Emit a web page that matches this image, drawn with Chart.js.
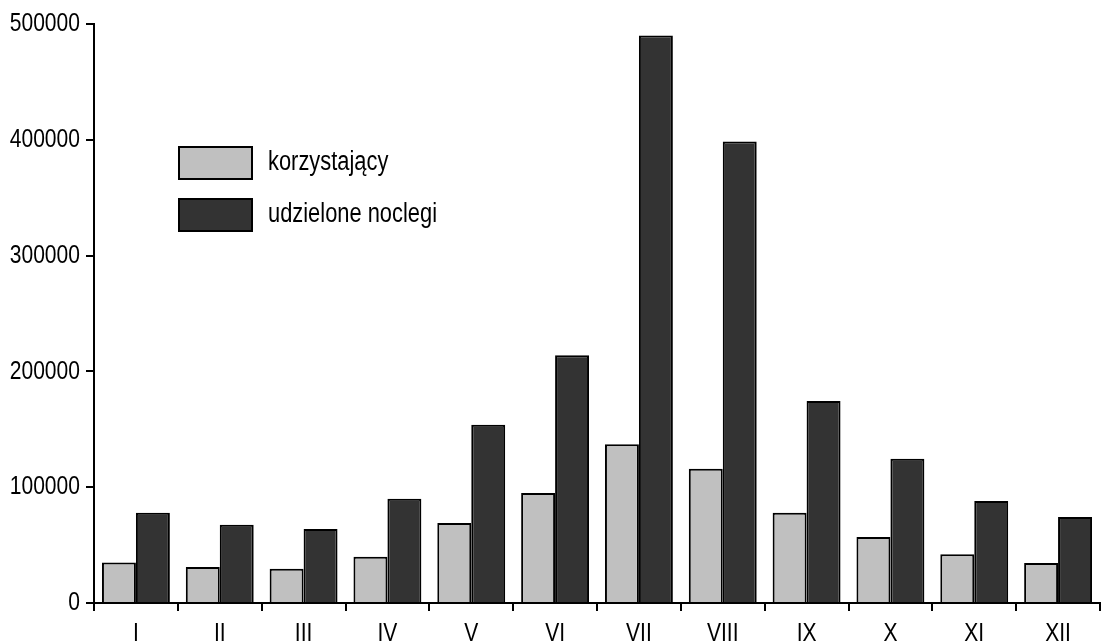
<!DOCTYPE html>
<html>
<head>
<meta charset="utf-8">
<script src="https://cdn.jsdelivr.net/npm/chart.js@4/dist/chart.umd.min.js"></script>
<style>
  html, body { margin: 0; padding: 0; background: #fff; }
  #wrap { width: 1101px; height: 643px; position: relative; }
</style>
</head>
<body>
<div id="wrap"><canvas id="chart"></canvas></div>
<script>
"use strict";

const months = ["I", "II", "III", "IV", "V", "VI", "VII", "VIII", "IX", "X", "XI", "XII"];
const korzystajacy = [35000, 31000, 29500, 40000, 69000, 95000, 137000, 116000, 78000, 57000, 42000, 34500];
const noclegi = [78000, 67500, 64000, 90000, 154000, 214000, 490000, 398500, 174500, 124500, 88000, 74300];
const yTicks = [0, 100000, 200000, 300000, 400000, 500000];

const FONT = "'Liberation Sans', Arial, sans-serif";
// no narrow font installed, so text gets squeezed with fillText's maxWidth
const NARROW = 0.81;

function narrowText(ctx, txt, x, y, size) {
  ctx.font = size + "px " + FONT;
  const w = ctx.measureText(txt).width * NARROW;
  ctx.fillText(txt, x, y, w);
}

const narrowLabels = {
  id: "narrowLabels",
  afterDraw(chart) {
    const ctx = chart.ctx;
    ctx.save();
    ctx.fillStyle = "#000";

    const ys = chart.scales.y;
    ctx.textAlign = "right";
    ctx.textBaseline = "middle";
    ys.ticks.forEach(t => narrowText(ctx, String(t.value), 80, ys.getPixelForValue(t.value), 26));

    const xs = chart.scales.x;
    ctx.textAlign = "center";
    ctx.textBaseline = "alphabetic";
    chart.data.labels.forEach((lab, i) => narrowText(ctx, lab, xs.getPixelForValue(i), 641, 26));

    // legend inside the plot
    chart.data.datasets.forEach((ds, i) => {
      const x = 179, y = 147 + i * 52;
      ctx.fillStyle = ds.backgroundColor;
      ctx.fillRect(x, y, 73, 32);
      ctx.lineWidth = 2;
      ctx.strokeStyle = "#000";
      ctx.strokeRect(x, y, 73, 32);
      ctx.fillStyle = "#000";
      ctx.textAlign = "left";
      ctx.textBaseline = "middle";
      narrowText(ctx, ds.label, 268, y + 16, 27);
    });
    ctx.restore();
  }
};

new Chart(document.getElementById("chart"), {
  type: "bar",
  data: {
    labels: months,
    datasets: [
      { label: "korzystający", data: korzystajacy, backgroundColor: "#c0c0c0", borderColor: "#000", borderWidth: 2 },
      { label: "udzielone noclegi", data: noclegi, backgroundColor: "#333333", borderColor: "#000", borderWidth: 2 }
    ]
  },
  options: {
    responsive: true,
    maintainAspectRatio: false,
    animation: false,
    layout: { padding: { top: 24, right: 1, left: 0, bottom: 0 } },
    datasets: { bar: { categoryPercentage: 0.81, barPercentage: 1.0 } },
    plugins: { legend: { display: false }, tooltip: { enabled: false } },
    scales: {
      x: {
        offset: true,
        grid: { offset: true, drawOnChartArea: false, color: "#000", lineWidth: 2, tickLength: 8 },
        border: { color: "#000", width: 2 },
        ticks: { display: false },
        afterFit(scale) { scale.height = 40; }
      },
      y: {
        min: 0,
        max: 500000,
        afterBuildTicks(scale) { scale.ticks = yTicks.map(v => ({ value: v })); },
        grid: { drawOnChartArea: false, color: "#000", lineWidth: 2, tickLength: 8 },
        border: { color: "#000", width: 2 },
        ticks: { display: false },
        afterFit(scale) { scale.width = 94; }
      }
    }
  },
  plugins: [narrowLabels]
});
</script>
</body>
</html>
